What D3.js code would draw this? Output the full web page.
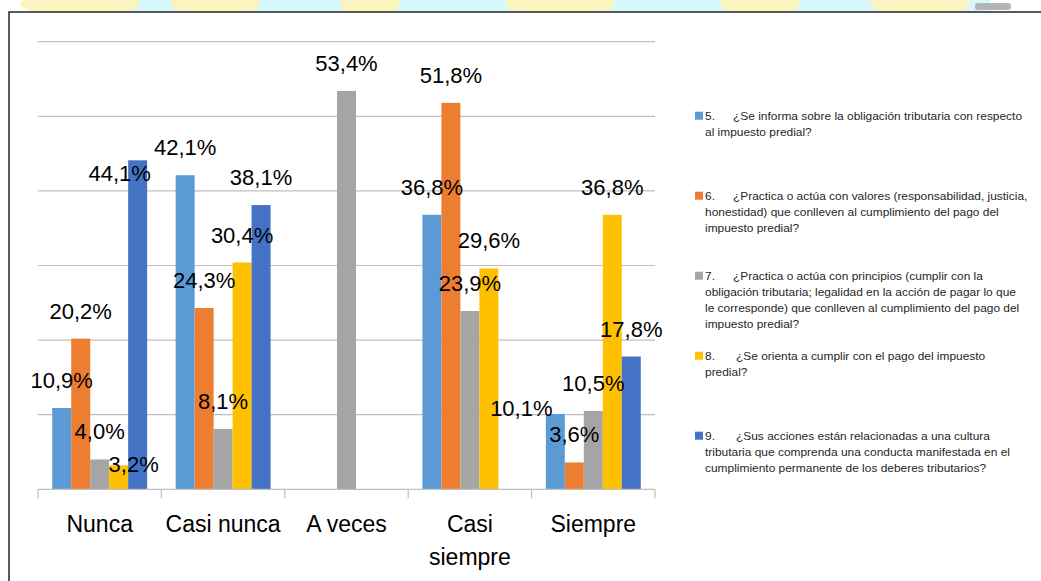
<!DOCTYPE html>
<html><head><meta charset="utf-8">
<script src="https://cdn.jsdelivr.net/npm/d3@7"></script>
<style>
html,body{margin:0;padding:0;background:#fff;}
svg{display:block;}
</style></head>
<body>
<svg id="chart" width="1041" height="581"></svg>
<script>
// ---- data ----
const categories = ["Nunca", "Casi nunca", "A veces", "Casi siempre", "Siempre"];
const seriesNames = ["5.", "6.", "7.", "8.", "9."];
const s5 = [10.9, 42.1, 0, 36.8, 10.1];
const s6 = [20.2, 24.3, 0, 51.8, 3.6];
const s7 = [4.0, 8.1, 53.4, 23.9, 10.5];
const s8 = [3.2, 30.4, 0, 29.6, 36.8];
const s9 = [44.1, 38.1, 0, 0, 17.8];
const yTicks = [0, 10, 20, 30, 40, 50, 60];
const legendTexts = [
  ["¿Se informa sobre la obligación tributaria con respecto", "al impuesto predial?"],
  ["¿Practica o actúa con valores (responsabilidad, justicia,", "honestidad) que conlleven al cumplimiento del pago del", "impuesto predial?"],
  ["¿Practica o actúa con principios (cumplir con la", "obligación tributaria; legalidad en la acción de pagar lo que", "le corresponde) que conlleven al cumplimiento del pago del", "impuesto predial?"],
  ["¿Se orienta a cumplir con el pago del impuesto", "predial?"],
  ["¿Sus acciones están relacionadas a una cultura", "tributaria que comprenda una conducta manifestada en el", "cumplimiento permanente de los deberes tributarios?"]
];
const seriesValues = [s5, s6, s7, s8, s9];

// ---- styles / layout ----
const colors = ["#5B9BD5", "#ED7D31", "#A5A5A5", "#FFC000", "#4472C4"];
const font = "'Liberation Sans', Arial, sans-serif";
// manually moved data labels: key "series-category" -> [dx, dy]
const labelMoves = {"4-0": [-18, 41], "3-0": [15, 27], "0-4": [-34, 22]};

const svg = d3.select("#chart");

// background watermark strip
const bg = svg.append("g");
bg.append("rect").attr("x", 30).attr("y", 0).attr("width", 990).attr("height", 14).attr("fill", "#D6F7FC");
[[80, 60], [215, 45], [370, 30], [560, 55], [760, 40], [920, 50]].forEach(([cx, rx]) => {
  bg.append("ellipse").attr("cx", cx).attr("cy", 4).attr("rx", rx).attr("ry", 12).attr("fill", "#FFF3B8").attr("opacity", 0.9);
});
bg.append("rect").attr("x", 990).attr("y", 0).attr("width", 51).attr("height", 14).attr("fill", "#fff");
bg.append("rect").attr("x", 975).attr("y", 3).attr("width", 36).attr("height", 7).attr("rx", 3).attr("fill", "#B5B5B5");

// chart frame
svg.append("rect").attr("x", 9).attr("y", 12).attr("width", 1040).attr("height", 580)
  .attr("fill", "#fff").attr("stroke", "#262626").attr("stroke-width", 1.5);

const x0 = d3.scaleBand().domain(categories).range([38, 655]).padding(0);
const bw = x0.bandwidth();
const barW = bw / (seriesNames.length + 1.5);
const x1 = d3.scaleBand().domain(d3.range(seriesNames.length)).range([barW * 0.75, bw - barW * 0.75]).padding(0);
const y = d3.scaleLinear().domain([0, 60]).range([489.3, 41.7]);

// gridlines
svg.append("g").selectAll("line").data(yTicks.slice(1)).join("line")
  .attr("x1", 38).attr("x2", 655)
  .attr("y1", d => y(d)).attr("y2", d => y(d))
  .attr("stroke", "#BFBFBF").attr("stroke-width", 1.2);

// bars
const gBars = svg.append("g");
categories.forEach((c, ci) => {
  seriesValues.forEach((vals, si) => {
    const v = vals[ci];
    if (!v) return;
    gBars.append("rect")
      .attr("x", x0(c) + x1(si)).attr("width", x1.bandwidth())
      .attr("y", y(v)).attr("height", y(0) - y(v))
      .attr("fill", colors[si]);
  });
});

// x axis
const xAxis = svg.append("g").attr("transform", `translate(0,${y(0)})`);
xAxis.append("line").attr("x1", 38).attr("x2", 655).attr("stroke", "#BFBFBF").attr("stroke-width", 1.2);
xAxis.selectAll("line.tick").data(d3.range(categories.length + 1)).join("line").attr("class", "tick")
  .attr("x1", i => 38 + i * bw).attr("x2", i => 38 + i * bw)
  .attr("y1", 0).attr("y2", 9).attr("stroke", "#BFBFBF").attr("stroke-width", 1.2);
categories.forEach(c => {
  const words = c === "Casi siempre" ? ["Casi", "siempre"] : [c];
  const t = xAxis.append("text").attr("x", x0(c) + bw / 2).attr("y", 42.4)
    .attr("text-anchor", "middle").attr("font-family", font).attr("font-size", 23).attr("fill", "#000");
  words.forEach((w, i) => t.append("tspan").attr("x", x0(c) + bw / 2).attr("dy", i ? 33.3 : 0).text(w));
});

// data labels
const gLab = svg.append("g");
categories.forEach((c, ci) => {
  seriesValues.forEach((vals, si) => {
    const v = vals[ci];
    if (!v) return;
    const mv = labelMoves[si + "-" + ci] || [0, 0];
    gLab.append("text")
      .attr("x", x0(c) + x1(si) + x1.bandwidth() / 2 + mv[0])
      .attr("y", y(v) - 20 + mv[1])
      .attr("text-anchor", "middle").attr("font-family", font).attr("font-size", 22).attr("fill", "#000")
      .text(d3.format(".1f")(v).replace(".", ",") + "%");
  });
});

// legend
const gLeg = svg.append("g").attr("font-family", font).attr("font-size", 11).attr("fill", "#262626");
seriesNames.forEach((n, i) => {
  const cy = 116 + 80 * i;
  gLeg.append("rect").attr("x", 695).attr("y", cy - 4.3).attr("width", 8).attr("height", 8).attr("fill", colors[i]);
  const gt = gLeg.append("g").attr("transform", "translate(705,0) scale(1.085,1)");
  gt.append("text").attr("x", 0).attr("y", cy + 3.8).text(n);
  legendTexts[i].forEach((line, li) => {
    gt.append("text").attr("x", li === 0 ? ((i >= 3 ? 736 : 733) - 705) / 1.085 : 0).attr("y", cy + 3.8 + li * 16).text(line);
  });
});
</script>
</body></html>
